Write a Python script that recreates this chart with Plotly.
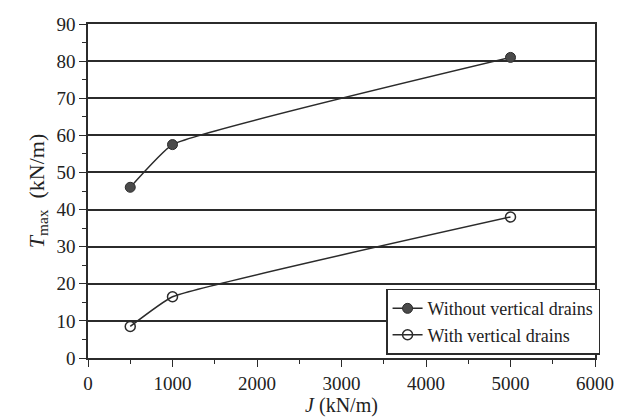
import plotly.graph_objects as go

j_values = [500, 1000, 5000]
without_drains = [46, 57.5, 81]
with_drains = [8.5, 16.5, 38]

x_ticks = [0, 1000, 2000, 3000, 4000, 5000, 6000]
y_ticks = [0, 10, 20, 30, 40, 50, 60, 70, 80, 90]

ink = "#2b2b2b"
fig = go.Figure()
fig.add_trace(go.Scatter(
    x=j_values, y=without_drains, mode="lines+markers",
    name="Without vertical drains",
    line=dict(color=ink, width=1.5, shape="spline", smoothing=0.35),
    marker=dict(symbol="circle", size=10, color="#4a4a4a", line=dict(color=ink, width=1)),
))
fig.add_trace(go.Scatter(
    x=j_values, y=with_drains, mode="lines+markers",
    name="With vertical drains",
    line=dict(color=ink, width=1.5, shape="spline", smoothing=0.35),
    marker=dict(symbol="circle-open", size=10, color=ink, line=dict(color=ink, width=1.5)),
))

axis_font = dict(family="Liberation Serif", size=19, color="#222")
fig.update_layout(
    width=626, height=420,
    margin=dict(l=88, r=30, t=24, b=58),
    paper_bgcolor="white", plot_bgcolor="white",
    font=dict(family="Liberation Serif", color="#222"),
    showlegend=True,
    legend=dict(x=1.01, y=0.01, xanchor="right", yanchor="bottom",
                bordercolor=ink, borderwidth=1.5, bgcolor="white",
                font=dict(family="Liberation Serif", size=18, color="#222"),
                tracegroupgap=0, itemwidth=30),
    xaxis=dict(range=[0, 6000], tickvals=x_ticks, ticktext=[str(v) for v in x_ticks],
               showgrid=False, zeroline=False, showline=True, linecolor=ink, linewidth=1.5,
               mirror=True, ticks="outside", ticklen=7, tickwidth=1.2, tickcolor=ink,
               tickfont=axis_font,
               minor=dict(dtick=500, ticks="outside", ticklen=4, tickcolor=ink, showgrid=False),
               title=dict(text="<i>J</i> (kN/m)", font=dict(family="Liberation Serif", size=20, color="#222"), standoff=0)),
    yaxis=dict(range=[0, 90], tickvals=y_ticks, ticktext=[str(v) for v in y_ticks],
               showgrid=True, gridcolor=ink, gridwidth=1.5, zeroline=False,
               showline=True, linecolor=ink, linewidth=1.5, mirror=True,
               ticks="outside", ticklen=7, tickwidth=1.2, tickcolor=ink,
               tickfont=axis_font,
               minor=dict(dtick=5, ticks="outside", ticklen=4, tickcolor=ink, showgrid=False),
               title=dict(text="<i>T</i><sub>max</sub>  (kN/m)", font=dict(family="Liberation Serif", size=22, color="#222"), standoff=6)),
)

fig.write_html("out.html")
